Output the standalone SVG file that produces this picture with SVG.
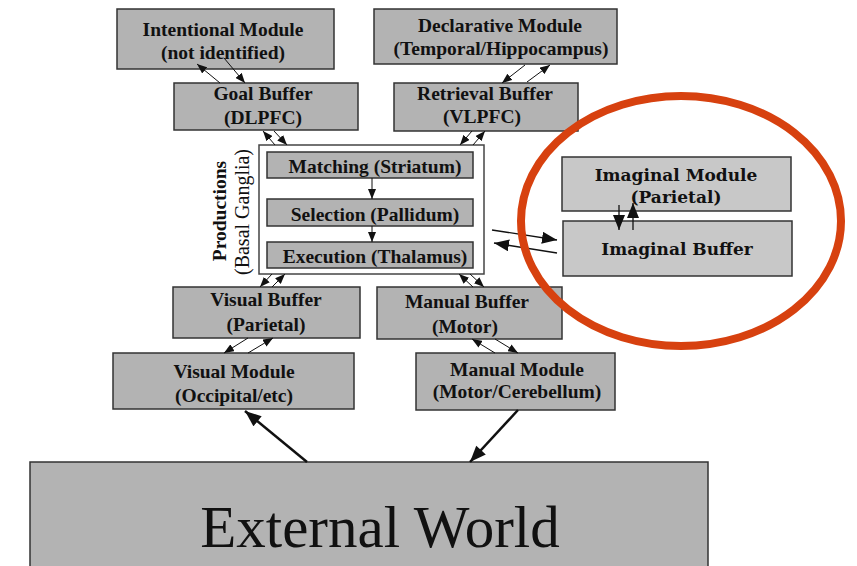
<svg xmlns="http://www.w3.org/2000/svg" width="857" height="566" viewBox="0 0 857 566">
<style>
.box{fill:#b3b3b3;stroke:#333;stroke-width:1.5}
.ibox{fill:#c8c8c8;stroke:#333;stroke-width:1.5}
.t{font-family:"Liberation Serif","Times New Roman",serif;font-weight:bold;font-size:19.5px;fill:#111;text-anchor:middle}
.ti{font-family:"DejaVu Serif",serif;font-weight:bold;font-size:17px;fill:#111;text-anchor:middle}
.thin{stroke:#111;stroke-width:1;fill:none;marker-end:url(#hs)}
.mid{stroke:#111;stroke-width:1.3;fill:none;marker-end:url(#hm)}
.thick{stroke:#111;stroke-width:2.5;fill:none;marker-end:url(#hl)}
</style>
<defs>
<marker id="hs" viewBox="0 0 10 8" markerWidth="10" markerHeight="8" refX="10" refY="4" orient="auto" markerUnits="userSpaceOnUse"><path d="M0,0 L10,4 L0,8 z" fill="#111"/></marker>
<marker id="hm" viewBox="0 0 10 8" markerWidth="15" markerHeight="12" refX="10" refY="4" orient="auto" markerUnits="userSpaceOnUse"><path d="M0,0 L10,4 L0,8 z" fill="#111"/></marker>
<marker id="hl" viewBox="0 0 10 8" markerWidth="17" markerHeight="13" refX="10" refY="4" orient="auto" markerUnits="userSpaceOnUse"><path d="M0,0 L10,4 L0,8 z" fill="#111"/></marker>
</defs>

<g id="external-world">
<rect class="box" x="30" y="462" width="678" height="110"/>
<text x="380" y="547" font-family="'Liberation Serif','Times New Roman',serif" font-size="59" fill="#111" text-anchor="middle">External World</text>
</g>

<g id="intentional-module">
<rect class="box" x="117" y="9" width="217" height="60"/>
<text class="t" x="223" y="36">Intentional Module</text>
<text class="t" x="223" y="59">(not identified)</text>
</g>

<g id="declarative-module">
<rect class="box" x="374" y="9" width="243" height="55"/>
<text class="t" x="500" y="32">Declarative Module</text>
<text class="t" x="501" y="55">(Temporal/Hippocampus)</text>
</g>

<g id="goal-buffer">
<rect class="box" x="174" y="83" width="184" height="47"/>
<text class="t" x="263" y="100">Goal Buffer</text>
<text class="t" x="263" y="124">(DLPFC)</text>
</g>

<g id="retrieval-buffer">
<rect class="box" x="394" y="83" width="184" height="48"/>
<text class="t" x="485" y="100">Retrieval Buffer</text>
<text class="t" x="482" y="123">(VLPFC)</text>
</g>

<g id="productions">
<rect x="259" y="145" width="225" height="129" fill="#fff" stroke="#444" stroke-width="1.5"/>
<text class="t" transform="translate(226,211) rotate(-90)">Productions</text>
<text transform="translate(249,212) rotate(-90)" font-family="'Liberation Serif','Times New Roman',serif" font-size="20" fill="#111" text-anchor="middle">(Basal Ganglia)</text>
</g>

<g id="matching">
<rect class="box" x="267" y="152" width="206" height="26"/>
<text class="t" x="375" y="173">Matching (Striatum)</text>
</g>

<g id="selection">
<rect class="box" x="267" y="199" width="206" height="27"/>
<text class="t" x="375" y="221">Selection (Pallidum)</text>
</g>

<g id="execution">
<rect class="box" x="267" y="242" width="206" height="26"/>
<text class="t" x="375" y="263">Execution (Thalamus)</text>
</g>

<g id="imaginal-module">
<rect class="ibox" x="562" y="157" width="229" height="54"/>
<text class="ti" x="676" y="181">Imaginal Module</text>
<text class="ti" x="676" y="203">(Parietal)</text>
</g>

<g id="imaginal-buffer">
<rect class="ibox" x="563" y="221" width="229" height="55"/>
<text class="ti" x="677" y="255">Imaginal Buffer</text>
</g>

<g id="visual-buffer">
<rect class="box" x="173" y="287" width="187" height="51"/>
<text class="t" x="266" y="306">Visual Buffer</text>
<text class="t" x="266" y="331">(Parietal)</text>
</g>

<g id="manual-buffer">
<rect class="box" x="377" y="287" width="185" height="52"/>
<text class="t" x="467" y="308">Manual Buffer</text>
<text class="t" x="465" y="333">(Motor)</text>
</g>

<g id="visual-module">
<rect class="box" x="113" y="353" width="241" height="56"/>
<text class="t" x="234" y="378">Visual Module</text>
<text class="t" x="234" y="402">(Occipital/etc)</text>
</g>

<g id="manual-module">
<rect class="box" x="416" y="353" width="199" height="57"/>
<text class="t" x="517" y="376">Manual Module</text>
<text class="t" x="517" y="398">(Motor/Cerebellum)</text>
</g>

<g id="connectors">
<line class="thin" x1="220" y1="83" x2="197" y2="64"/>
<line class="thin" x1="224" y1="58" x2="245" y2="83"/>
<line class="thin" x1="525" y1="65" x2="502" y2="83"/>
<line class="thin" x1="527" y1="82" x2="550" y2="65"/>
<line class="thin" x1="275" y1="145" x2="263" y2="131"/>
<line class="thin" x1="274" y1="131" x2="287" y2="145"/>
<line class="thin" x1="472" y1="131" x2="460" y2="145"/>
<line class="thin" x1="473" y1="145" x2="485" y2="131"/>
<line class="thin" x1="372" y1="178" x2="372" y2="199"/>
<line class="thin" x1="372" y1="226" x2="372" y2="242"/>
<line class="thin" x1="272" y1="274" x2="260" y2="287"/>
<line class="thin" x1="272" y1="287" x2="285" y2="274"/>
<line class="thin" x1="473" y1="287" x2="459" y2="274"/>
<line class="thin" x1="470" y1="274" x2="484" y2="287"/>
<line class="thin" x1="248" y1="338" x2="224" y2="353"/>
<line class="thin" x1="248" y1="353" x2="273" y2="338"/>
<line class="thin" x1="495" y1="353" x2="472" y2="339"/>
<line class="thin" x1="495" y1="339" x2="518" y2="353"/>
<line class="mid" x1="492" y1="230" x2="557" y2="240"/>
<line class="mid" x1="557" y1="253" x2="494" y2="243"/>
<line class="mid" x1="619" y1="205" x2="619" y2="230"/>
<line class="mid" x1="633" y1="230" x2="633" y2="203"/>
<line class="thick" x1="307" y1="462" x2="245" y2="411"/>
<line class="thick" x1="518" y1="410" x2="470" y2="462"/>
</g>

<ellipse cx="681" cy="221" rx="160" ry="125" fill="none" stroke="#d7410f" stroke-width="8"/>
</svg>
